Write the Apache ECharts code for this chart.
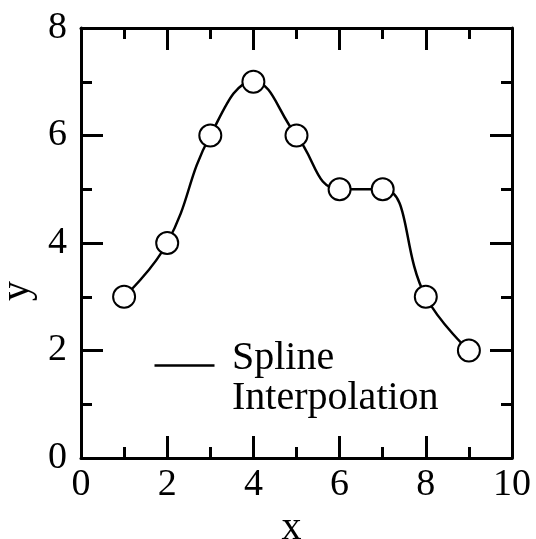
<!DOCTYPE html>
<html>
<head>
<meta charset="utf-8">
<script src="https://cdn.jsdelivr.net/npm/echarts@6/dist/echarts.min.js"></script>
<style>
html,body{margin:0;padding:0;background:#fff;}
#chart{width:536px;height:539px;}
</style>
</head>
<body>
<div id="chart"></div>
<script>
// Sample points joined by a smooth interpolating curve
const xValues = [1, 2, 3, 4, 5, 6, 7, 8, 9];
const yValues = [3, 4, 6, 7, 6, 5, 5, 3, 2];
const seriesName = 'Spline Interpolation';
const legendLines = ['Spline', 'Interpolation'];

const FONT = '"Liberation Serif", "DejaVu Serif", serif';
const points = xValues.map((x, i) => [x, yValues[i]]);

const tickCommon = {
  axisLine: { show: true, onZero: false, lineStyle: { color: '#000', width: 3 } },
  axisTick: { show: true, inside: true, length: 22, lineStyle: { color: '#000', width: 3 } },
  minorTick: { show: true, splitNumber: 2, length: 11, lineStyle: { color: '#000', width: 3 } },
  splitLine: { show: false },
  minorSplitLine: { show: false }
};

const chart = echarts.init(document.getElementById('chart'));
chart.setOption({
  animation: false,
  backgroundColor: '#fff',
  grid: { left: 81, top: 28, width: 431, height: 430, containLabel: false, outerBoundsMode: 'none' },
  xAxis: [
    Object.assign({
      type: 'value', min: 0, max: 10, interval: 2, position: 'bottom',
      name: 'x', nameLocation: 'middle', nameGap: 48,
      nameTextStyle: { fontFamily: FONT, fontSize: 40, color: '#000', padding: [0, 10, 0, 0] },
      axisLabel: { fontFamily: FONT, fontSize: 38, color: '#000', margin: 8 }
    }, tickCommon),
    Object.assign({
      type: 'value', min: 0, max: 10, interval: 2, position: 'top',
      axisLabel: { show: false }
    }, tickCommon)
  ],
  yAxis: [
    Object.assign({
      type: 'value', min: 0, max: 8, interval: 2, position: 'left',
      name: 'y', nameLocation: 'middle', nameGap: 31, nameRotate: 90,
      nameTextStyle: { fontFamily: FONT, fontSize: 40, color: '#000', padding: [0, 96, 0, 0] },
      axisLabel: { fontFamily: FONT, fontSize: 38, color: '#000', margin: 14 }
    }, tickCommon),
    Object.assign({
      type: 'value', min: 0, max: 8, interval: 2, position: 'right',
      axisLabel: { show: false }
    }, tickCommon)
  ],
  graphic: [
    {
      type: 'line', left: 152, top: 363,
      shape: { x1: 0, y1: 0, x2: 60, y2: 0 },
      style: { stroke: '#000', lineWidth: 2.5 }
    },
    {
      type: 'text', left: 232, top: 338,
      style: {
        text: legendLines.join('\n'), fill: '#000',
        font: '40px ' + FONT, lineHeight: 40
      }
    }
  ],
  series: [{
    name: seriesName,
    type: 'line',
    data: points,
    smooth: 0.45,
    symbol: 'circle',
    symbolSize: 22,
    itemStyle: { color: '#fff', borderColor: '#000', borderWidth: 2 },
    lineStyle: { color: '#000', width: 2.5 }
  }]
});
</script>
</body>
</html>
